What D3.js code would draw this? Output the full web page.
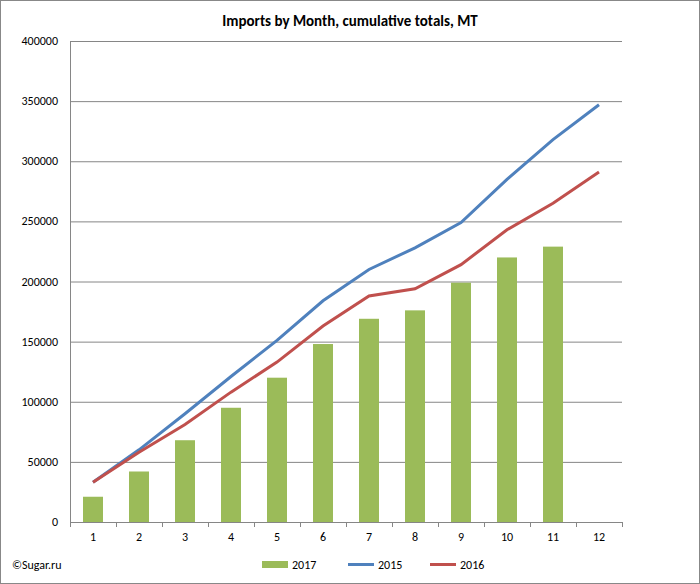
<!DOCTYPE html>
<html><head><meta charset="utf-8">
<script src="https://cdn.jsdelivr.net/npm/d3@7"></script>
<style>body{margin:0;background:#fff}svg{font-family:Calibri,"Liberation Sans",Arial,sans-serif}</style>
</head><body><svg id="c" width="700" height="584"></svg>
<script>
const months=[1,2,3,4,5,6,7,8,9,10,11,12];
const s2017=[21000,42000,68000,95000,120000,148000,169000,176000,199000,220000,229000];
const s2015=[33000,60000,90000,121000,151000,184000,210000,228000,249000,285000,318000,347000];
const s2016=[33000,58000,81000,108000,133000,163000,188000,194000,214000,243000,265000,291000];
const yTicks=[0,50000,100000,150000,200000,250000,300000,350000,400000];
const svg=d3.select("#c");
svg.append("rect").attr("x",0.5).attr("y",0.5).attr("width",699).attr("height",583).attr("fill","#fff").attr("stroke","#888");
const x=d3.scaleBand().domain(months).range([70,622]);
const y=d3.scaleLinear().domain([0,400000]).range([522,41]);
svg.append("g").selectAll("line").data(yTicks).join("line")
 .attr("x1",70).attr("x2",622).attr("y1",d=>y(d)+0.5).attr("y2",d=>y(d)+0.5).attr("stroke","#868686");
svg.append("line").attr("x1",70.5).attr("x2",70.5).attr("y1",41).attr("y2",522).attr("stroke","#868686");
svg.append("g").selectAll("text").data(yTicks).join("text").attr("x",58).attr("y",d=>y(d)+4)
 .attr("text-anchor","end").attr("font-size",12).text(d=>d);
svg.append("g").selectAll("text").data(months).join("text").attr("x",d=>x(d)+x.bandwidth()/2).attr("y",541)
 .attr("text-anchor","middle").attr("font-size",12).text(d=>d);
svg.append("g").selectAll("line").data(d3.range(13)).join("line")
 .attr("x1",i=>70+i*x.bandwidth()+0.5).attr("x2",i=>70+i*x.bandwidth()+0.5).attr("y1",522).attr("y2",527).attr("stroke","#868686");
svg.append("g").selectAll("rect").data(s2017).join("rect")
 .attr("x",(d,i)=>x(months[i])+x.bandwidth()/2-10).attr("width",20)
 .attr("y",d=>y(d)).attr("height",d=>522-y(d)).attr("fill","#9BBB59");
const line=d3.line().x((d,i)=>x(months[i])+x.bandwidth()/2).y(d=>y(d));
svg.append("path").datum(s2015).attr("d",line).attr("fill","none").attr("stroke","#4F81BD").attr("stroke-width",3);
svg.append("path").datum(s2016).attr("d",line).attr("fill","none").attr("stroke","#C0504D").attr("stroke-width",3);
svg.append("text").attr("x",350).attr("y",26).attr("text-anchor","middle").attr("font-size",15).attr("font-weight","bold").text("Imports by Month, cumulative totals, MT");
svg.append("text").attr("x",12).attr("y",569).attr("font-size",12).text("©Sugar.ru");
const lg=[["2017","#9BBB59","bar"],["2015","#4F81BD","line"],["2016","#C0504D","line"]];
const lx=[262,348,430];
lg.forEach((l,i)=>{
 if(l[2]=="bar") svg.append("rect").attr("x",lx[i]).attr("y",561).attr("width",26).attr("height",7).attr("fill",l[1]);
 else svg.append("line").attr("x1",lx[i]).attr("x2",lx[i]+26).attr("y1",564.5).attr("y2",564.5).attr("stroke",l[1]).attr("stroke-width",3);
 svg.append("text").attr("x",lx[i]+30).attr("y",569).attr("font-size",12).text(l[0]);
});
</script></body></html>
